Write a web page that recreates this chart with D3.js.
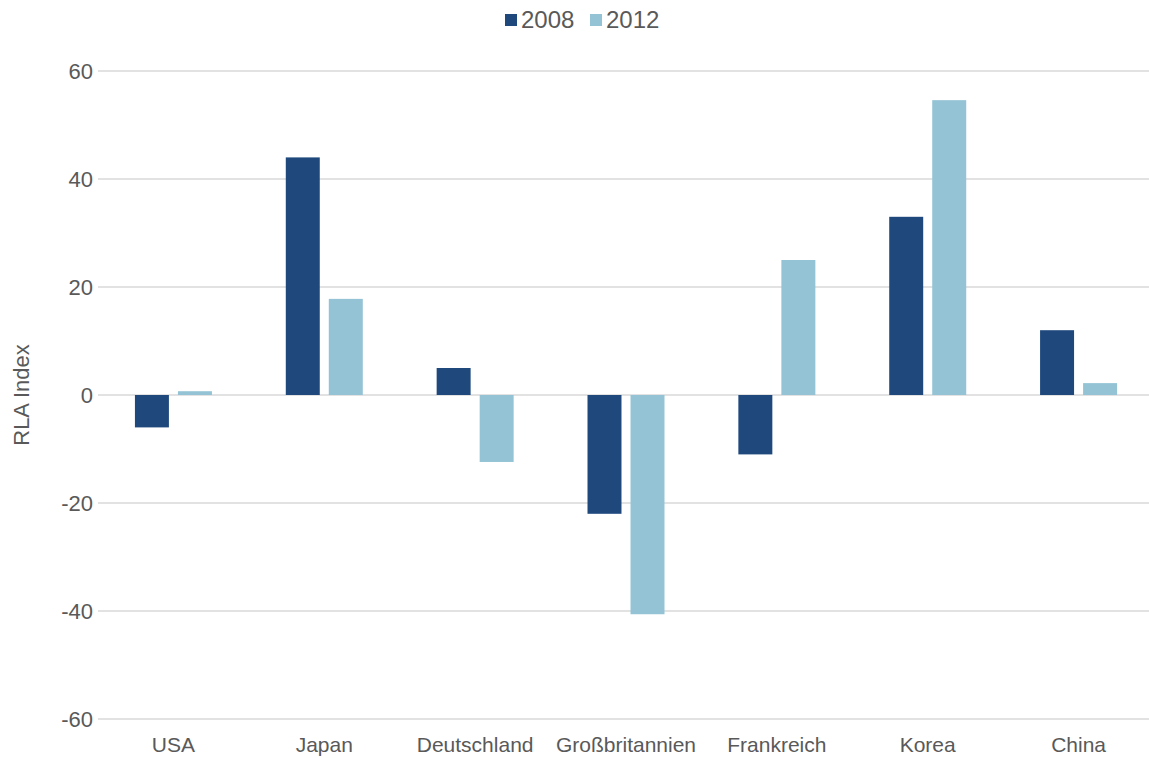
<!DOCTYPE html>
<html>
<head>
<meta charset="utf-8">
<script src="https://cdn.jsdelivr.net/npm/d3@7"></script>
<style>
  body { margin: 0; background: #fff; }
  svg { display: block; font-family: "Liberation Sans", Arial, sans-serif; }
  text { fill: #595959; }
</style>
</head>
<body>
<svg id="chart" width="1149" height="758"></svg>
<script>
// data
var categories = ["USA", "Japan", "Deutschland", "Großbritannien", "Frankreich", "Korea", "China"];
var seriesNames = ["2008", "2012"];
var values2008 = [-6, 44, 5, -22, -11, 33, 12];
var values2012 = [0.7, 17.8, -12.4, -40.6, 25, 54.6, 2.2];
var yTicks = [-60, -40, -20, 0, 20, 40, 60];
var colors = ["#1f497d", "#93c3d5"];

var rows = categories.map(function(c, i) {
  return { cat: c, vals: [values2008[i], values2012[i]] };
});

var plotLeft = 98, plotRight = 1154, plotTop = 71, plotBottom = 719;

var svg = d3.select("#chart");

var x0 = d3.scaleBand().domain(categories).range([plotLeft, plotRight]);
var x1 = d3.scaleBand().domain(seriesNames).range([-38.5, 38.5]).paddingInner(0.21);
var y = d3.scaleLinear().domain([-60, 60]).range([plotBottom, plotTop]);

// gridlines
svg.append("g")
  .selectAll("line")
  .data(yTicks)
  .join("line")
  .attr("x1", plotLeft)
  .attr("x2", plotRight)
  .attr("y1", function(d) { return y(d); })
  .attr("y2", function(d) { return y(d); })
  .attr("stroke", "#d9d9d9")
  .attr("stroke-width", 1.5);

// y tick labels
svg.append("g")
  .selectAll("text")
  .data(yTicks)
  .join("text")
  .attr("x", 93)
  .attr("y", function(d) { return y(d); })
  .attr("dy", "0.35em")
  .attr("text-anchor", "end")
  .style("font-size", "22px")
  .text(function(d) { return d; });

// bars
var groups = svg.append("g")
  .selectAll("g")
  .data(rows)
  .join("g")
  .attr("transform", function(d) { return "translate(" + (x0(d.cat) + x0.bandwidth() / 2) + ",0)"; });

groups.selectAll("rect")
  .data(function(d) { return d.vals.map(function(v, i) { return { s: seriesNames[i], v: v, i: i }; }); })
  .join("rect")
  .attr("x", function(d) { return x1(d.s); })
  .attr("width", x1.bandwidth())
  .attr("y", function(d) { return y(Math.max(0, d.v)); })
  .attr("height", function(d) { return Math.abs(y(d.v) - y(0)); })
  .attr("fill", function(d) { return colors[d.i]; });

// category labels
svg.append("g")
  .selectAll("text")
  .data(categories)
  .join("text")
  .attr("x", function(d) { return x0(d) + x0.bandwidth() / 2; })
  .attr("y", 752)
  .attr("text-anchor", "middle")
  .style("font-size", "21px")
  .text(function(d) { return d; });

// axis title
svg.append("text")
  .attr("transform", "translate(29," + y(0) + ") rotate(-90)")
  .attr("text-anchor", "middle")
  .style("font-size", "22px")
  .text("RLA Index");

// legend
var legend = svg.append("g").attr("transform", "translate(505,20)");
var legItems = legend.selectAll("g")
  .data(seriesNames)
  .join("g")
  .attr("transform", function(d, i) { return "translate(" + (i * 85) + ",0)"; });
legItems.append("rect")
  .attr("x", 0).attr("y", -6)
  .attr("width", 12).attr("height", 12)
  .attr("fill", function(d, i) { return colors[i]; });
legItems.append("text")
  .attr("x", 16).attr("y", 0)
  .attr("dy", "0.35em")
  .style("font-size", "24px")
  .text(function(d) { return d; });
</script>
</body>
</html>
